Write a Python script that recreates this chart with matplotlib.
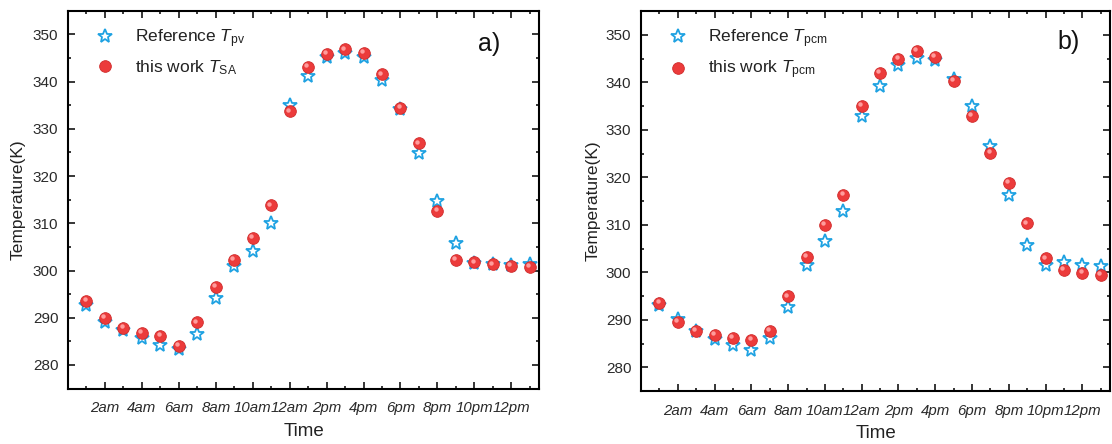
import matplotlib
matplotlib.use("Agg")
import matplotlib.pyplot as plt
from matplotlib.ticker import MultipleLocator, FixedLocator
import matplotlib.transforms as mtransforms

plt.rcParams['font.family'] = ['Liberation Sans', 'DejaVu Sans']
plt.rcParams['mathtext.fontset'] = 'custom'
plt.rcParams['mathtext.rm'] = 'Liberation Sans'
plt.rcParams['mathtext.it'] = 'Liberation Sans:italic'

# ---------------- data ----------------
hours = list(range(1, 26))
tick_pos = [2, 4, 6, 8, 10, 12, 14, 16, 18, 20, 22, 24]
tick_labels = ['2am', '4am', '6am', '8am', '10am', '12am', '2pm', '4pm',
               '6pm', '8pm', '10pm', '12pm']

ref_pv = [292.7, 289.2, 287.5, 285.7, 284.3, 283.4, 286.6, 294.2, 300.9,
          304.1, 310.0, 335.0, 341.2, 345.1, 346.1, 345.1, 340.3, 334.1,
          324.9, 314.7, 305.9, 301.5, 301.3, 301.1, 301.4]
sa_work = [293.5, 290.0, 287.8, 286.8, 286.2, 284.1, 289.0, 296.5, 302.3,
           306.9, 313.8, 333.7, 343.1, 345.8, 346.8, 346.0, 341.5, 334.4,
           326.9, 312.6, 302.2, 301.7, 301.3, 301.0, 300.8]

ref_pcm = [293.1, 290.2, 287.7, 286.0, 284.6, 283.6, 286.1, 292.6, 301.5,
           306.5, 313.0, 333.0, 339.3, 343.7, 345.2, 344.6, 340.7, 334.9,
           326.6, 316.3, 305.7, 301.6, 302.1, 301.6, 301.4]
pcm_work = [293.5, 289.5, 287.7, 286.8, 286.2, 285.8, 287.7, 294.9, 303.3,
            310.0, 316.3, 335.1, 341.9, 344.9, 346.6, 345.4, 340.3, 333.0,
            325.2, 318.8, 310.3, 302.9, 300.5, 299.8, 299.4]

panels = [
    dict(ref=ref_pv, work=sa_work,
         ref_label=r'Reference $\mathit{T}_{\mathrm{pv}}$',
         work_label=r'this work $\mathit{T}_{\mathrm{SA}}$', tag='a)'),
    dict(ref=ref_pcm, work=pcm_work,
         ref_label=r'Reference $\mathit{T}_{\mathrm{pcm}}$',
         work_label=r'this work $\mathit{T}_{\mathrm{pcm}}$', tag='b)'),
]

W, H = 1112, 444
fig = plt.figure(figsize=(W / 100, H / 100), dpi=100)
boxes = [(68, 10.7, 539, 388.6), (641, 11.0, 1110, 391.0)]
tag_pos = [(0.894, 0.912), (0.9126, 0.918)]
ylab_x = [-0.089, -0.087]

star_c = '#1fa2e2'
red_c = '#ec3b3b'

for i, (p, (l, t, r, b)) in enumerate(zip(panels, boxes)):
    ax = fig.add_axes([l / W, 1 - b / H, (r - l) / W, (b - t) / H])
    ax.plot(hours, p['ref'], ls='none', marker='*', ms=10.5, mfc='white',
            mec=star_c, mew=1.3, zorder=3, label=p['ref_label'])
    ax.plot(hours, p['work'], ls='none', marker='o', ms=8.4, mfc=red_c,
            mec='#d02a2a', mew=0.6, zorder=4, label=p['work_label'])
    off = mtransforms.ScaledTranslation(-1.3 / 72, 1.3 / 72, fig.dpi_scale_trans)
    ax.plot(hours, p['work'], ls='none', marker='o', ms=3.2, mfc='#ff9c9c',
            mec='none', zorder=5, transform=ax.transData + off)

    ax.set_xlim(0, 25.5)
    ax.set_ylim(275, 355)
    ax.xaxis.set_major_locator(FixedLocator(tick_pos))
    ax.set_xticklabels(tick_labels, fontstyle='italic', fontsize=10.8,
                       color='#2a2a2a')
    ax.xaxis.set_minor_locator(FixedLocator(list(range(1, 26, 2))))
    ax.yaxis.set_major_locator(MultipleLocator(10))
    ax.yaxis.set_minor_locator(MultipleLocator(5))
    ax.tick_params(which='both', direction='in', top=True, right=True,
                   width=1.1, color='black')
    ax.tick_params(which='major', length=5)
    ax.tick_params(which='minor', length=2.5)
    ax.tick_params(axis='x', which='major', pad=9)
    ax.tick_params(axis='y', which='major', pad=7, labelsize=11,
                   labelcolor='#2a2a2a')
    for s in ax.spines.values():
        s.set_linewidth(1.5)

    ax.set_ylabel('Temperature(K)', fontsize=12.5, color='#222222')
    ax.yaxis.set_label_coords(ylab_x[i], 0.5)
    ax.set_xlabel('Time', fontsize=13.5, color='#222222')
    ax.xaxis.set_label_coords(0.5, -0.09)

    ax.text(tag_pos[i][0], tag_pos[i][1], p['tag'], transform=ax.transAxes,
            fontsize=18, ha='center', va='center', color='#111111')

    leg = ax.legend(loc='upper left', bbox_to_anchor=(26.5 / (r - l), 1 - 16.5 / (b - t)),
                    frameon=False, fontsize=12.5, handlelength=1.2,
                    handletextpad=1.12, borderpad=0, borderaxespad=0,
                    labelspacing=0.5)
    for txt in leg.get_texts():
        txt.set_color('#222222')

fig.savefig('out.png', dpi=100)
